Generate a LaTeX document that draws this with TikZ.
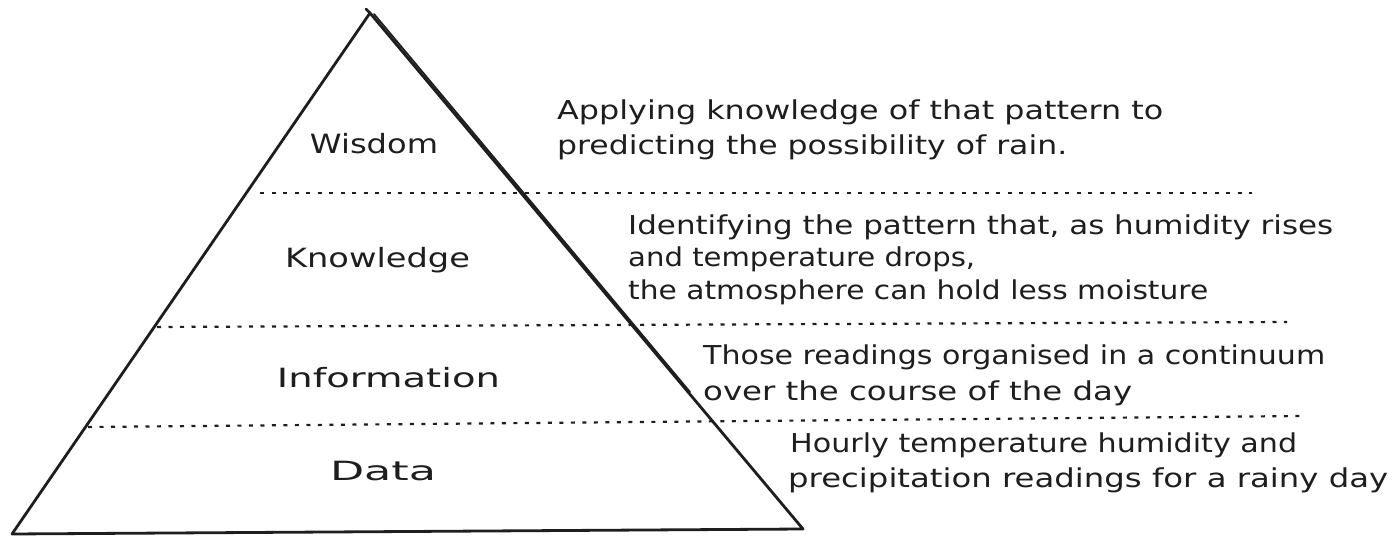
\documentclass[tikz,border=0pt]{standalone}
\usepackage{fontspec}
\usepackage{graphicx}
\setmainfont{DejaVu Sans}
\definecolor{ink}{HTML}{1E1E1E}
\newcommand{\fitto}[2]{\resizebox{#1pt}{\height}{#2}}
\begin{document}
\begin{tikzpicture}[x=1pt,y=-1pt,
  edge/.style={draw=ink,line width=2.8pt,line join=round,line cap=round},
  sep/.style={draw=ink,line width=2.2pt,dash pattern=on 4pt off 7.5pt},
  lvl/.style={text=ink,inner sep=0pt,anchor=base,font=\fontsize{26.5}{30}\selectfont},
  desc/.style={text=ink,inner sep=0pt,anchor=base west,font=\fontsize{26}{30}\selectfont}]
\fill[white] (0,0) rectangle (1393,537);
\useasboundingbox (0,0) rectangle (1393,537);
% pyramid
\coordinate (apex) at (370,13);
\coordinate (bl) at (12,534);
\coordinate (br) at (803,529);
\coordinate (apexb) at (374,14);
\coordinate (rs) at (690,392);
\coordinate (tick) at (366,9);
\draw[edge] (apex) -- (br) -- (bl) -- cycle;
\draw[edge] (tick) -- (apex);
\draw[edge,line width=1.8pt] (apexb) -- (rs);
% separators
\coordinate (s1l) at (260,193); \coordinate (s1r) at (1252,193);
\coordinate (s2l) at (157,327); \coordinate (s2r) at (1287,322);
\coordinate (s3l) at (88,427);  \coordinate (s3r) at (1303,416);
\draw[sep] (s1l) -- (s1r);
\draw[sep] (s2l) -- (s2r);
\draw[sep] (s3l) -- (s3r);
% levels
\node[lvl] (wis) at (374,154) {\fitto{128}{Wisdom}};
\node[lvl] (kno) at (377.5,268) {\fitto{185}{Knowledge}};
\node[lvl] (inf) at (388.5,387) {\fitto{223}{Information}};
\node[lvl] (dat) at (383,480) {\fitto{106}{Data}};
% descriptions
\node[desc] (w1) at (557,120) {\fitto{606}{Applying knowledge of that pattern to}};
\node[desc] (w2) at (557,155) {\fitto{510}{predicting the possibility of rain.}};
\node[desc] (k1) at (628,235) {\fitto{705}{Identifying the pattern that, as humidity rises}};
\node[desc] (k2) at (628,267) {\fitto{347}{and temperature drops,}};
\node[desc] (k3) at (628,300) {\fitto{580}{the atmosphere can hold less moisture}};
\node[desc] (i1) at (703,365) {\fitto{622}{Those readings organised in a continuum}};
\node[desc] (i2) at (703,400) {\fitto{429}{over the course of the day}};
\node[desc] (d1) at (790,452) {\fitto{507}{Hourly temperature humidity and}};
\node[desc] (d2) at (788,487) {\fitto{600}{precipitation readings for a rainy day}};
\end{tikzpicture}
\end{document}
